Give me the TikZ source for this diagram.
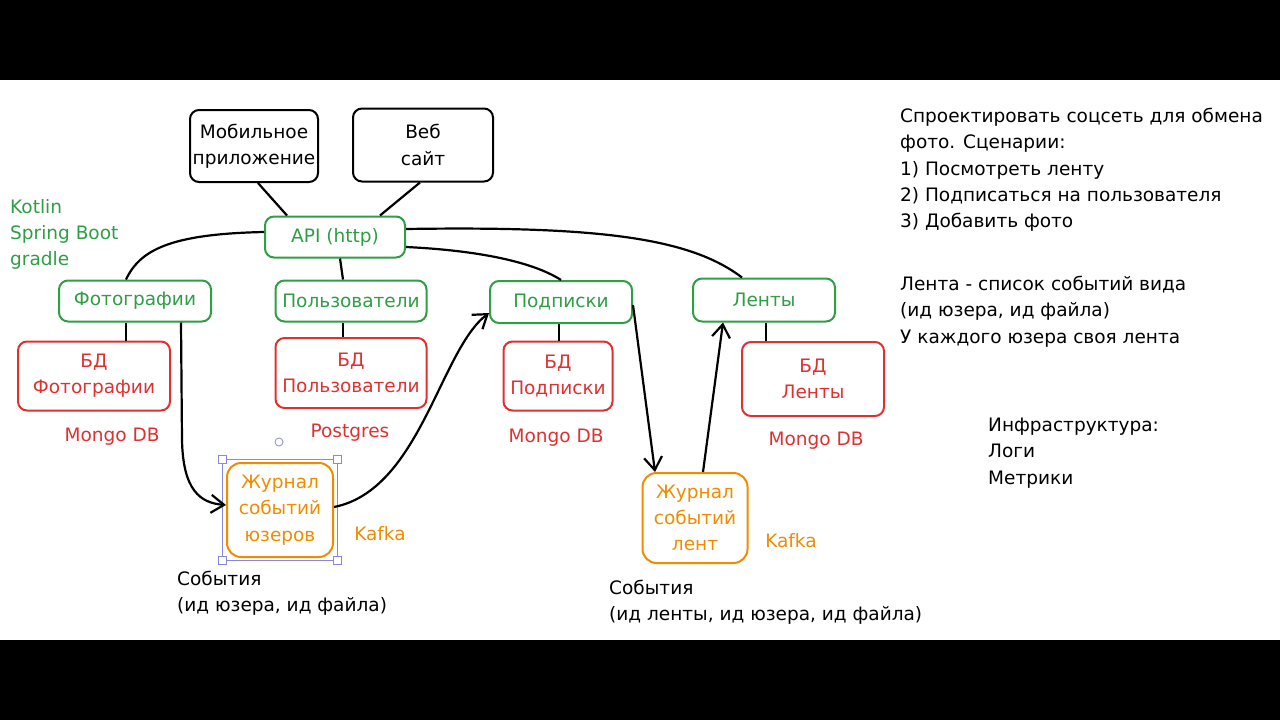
\documentclass[tikz,border=0pt]{standalone}
\usepackage{fontspec}
\setmainfont{DejaVu Sans}
\usetikzlibrary{arrows.meta}
\definecolor{cgreen}{HTML}{2F9E44}
\definecolor{cred}{HTML}{E03131}
\definecolor{corange}{HTML}{F08C00}
\definecolor{csel}{HTML}{8A87E0}
\begin{document}
\begin{tikzpicture}[x=1pt,y=-1pt,
  every node/.style={font=\fontsize{18.5}{26.3}\selectfont, inner sep=0pt},
  box/.style={draw, line width=2pt, rounded corners=9pt, align=center},
  blk/.style={box, draw=black, text=black},
  grn/.style={box, draw=cgreen, text=cgreen},
  rd/.style={box, draw=cred, text=cred},
  org/.style={box, draw=corange, text=corange, rounded corners=14pt},
  conn/.style={line width=2.2pt, draw=black},
  arr/.style={conn, -{Straight Barb[length=13pt,width=18pt,line width=2.2pt]}},
  lbl/.style={anchor=north west, align=left},
]
\fill[black] (0,0) rectangle (1280,80);
\fill[black] (0,640) rectangle (1280,720);
\fill[white] (0,80) rectangle (1280,640);
\useasboundingbox (0,0) rectangle (1280,720);

% boxes
\node[blk, minimum width=128, minimum height=72] (mob) at (254,146) {Мобильное\\приложение};
\node[blk, minimum width=140, minimum height=73] (web) at (423,145) {Веб\\сайт};
\node[grn, minimum width=140, minimum height=41] (api) at (335,237) {API (http)};
\node[grn, minimum width=152, minimum height=41] (photo) at (135,301) {Фотографии};
\node[grn, minimum width=151, minimum height=41] (users) at (351,301) {Пользователи};
\node[grn, minimum width=142, minimum height=42] (subs) at (561,302) {Подписки};
\node[grn, minimum width=142, minimum height=43] (feeds) at (764,300) {Ленты};
\node[rd, minimum width=152, minimum height=69] (dbphoto) at (94,376) {БД\\Фотографии};
\node[rd, minimum width=151, minimum height=70] (dbusers) at (351,373) {БД\\Пользователи};
\node[rd, minimum width=109, minimum height=69] (dbsubs) at (558,376) {БД\\Подписки};
\node[rd, minimum width=142, minimum height=74] (dbfeeds) at (813,379) {БД\\Ленты};
\node[org, minimum width=106, minimum height=94] (jusers) at (280,510) {Журнал\\событий\\юзеров};
\node[org, minimum width=105, minimum height=90] (jfeeds) at (695,518) {Журнал\\событий\\лент};

% selection artefact
\draw[csel, line width=0.8pt] (222,459) rectangle (337,560);
\foreach \px/\py in {222/459,337/459,222/560,337/560}
  \draw[csel, fill=white, line width=0.8pt] (\px-4,\py-4) rectangle (\px+4,\py+4);
\draw[csel, line width=0.8pt] (279,442) circle (4);

% labels
\node[text=cred] (m1) at (112,437) {Mongo DB};
\node[text=cred] (pg) at (350,433) {Postgres};
\node[text=cred] (m2) at (556,438) {Mongo DB};
\node[text=cred] (m3) at (816,441) {Mongo DB};
\node[text=corange] (k1) at (380,534) {Kafka};
\node[text=corange] (k2) at (791,541) {Kafka};
\node[lbl, text=cgreen] (tech) at (10,199) {Kotlin\\Spring Boot\\gradle};
\node[lbl] (task) at (900,108) {Спроектировать соцсеть для обмена\\фото. Сценарии:\\1) Посмотреть ленту\\2) Подписаться на пользователя\\3) Добавить фото};
\node[lbl] (feeddef) at (900,276) {Лента - список событий вида\\(ид юзера, ид файла)\\У каждого юзера своя лента};
\node[lbl] (infra) at (988,418) {Инфраструктура:\\Логи\\Метрики};
\node[lbl] (ev1) at (177,571) {События\\(ид юзера, ид файла)};
\node[lbl] (ev2) at (609,580) {События\\(ид ленты, ид юзера, ид файла)};

% connectors
\draw[conn] ([xshift=4pt]mob.south) -- ([xshift=-48pt]api.north);
\draw[conn] ([xshift=-3pt]web.south) -- ([xshift=45pt]api.north);
\draw[conn] ([yshift=5pt]api.west) .. controls (170,234) and (140,250) .. ([xshift=-9pt]photo.north);
\draw[conn] ([xshift=5pt]api.south) -- ([xshift=-8pt]users.north);
\draw[conn] ([yshift=-10pt]api.east) .. controls (470,250) and (530,260) .. (subs.north);
\draw[conn] ([yshift=8pt]api.east) .. controls (600,226) and (690,238) .. ([xshift=-22pt]feeds.north);
\draw[conn] ([xshift=-9pt]photo.south) -- ([xshift=32pt]dbphoto.north);
\draw[conn] ([xshift=-8pt]users.south) -- ([xshift=-8pt]dbusers.north);
\draw[conn] ([xshift=-2pt]subs.south) -- ([xshift=1pt]dbsubs.north);
\draw[conn] ([xshift=2pt]feeds.south) -- ([xshift=-47pt]dbfeeds.north);
\draw[arr] ([xshift=46pt]photo.south) -- (182,440) .. controls (183,490) and (200,503) .. ([yshift=5pt]jusers.west);
\draw[arr] ([yshift=3pt]jusers.east) .. controls (420,490) and (440,350) .. ([yshift=-11pt]subs.west);
\draw[arr] ([yshift=-3pt]subs.east) -- ([xshift=-40pt]jfeeds.north);
\draw[arr] ([xshift=8pt]jfeeds.north) -- ([xshift=-41pt]feeds.south);
\end{tikzpicture}
\end{document}
